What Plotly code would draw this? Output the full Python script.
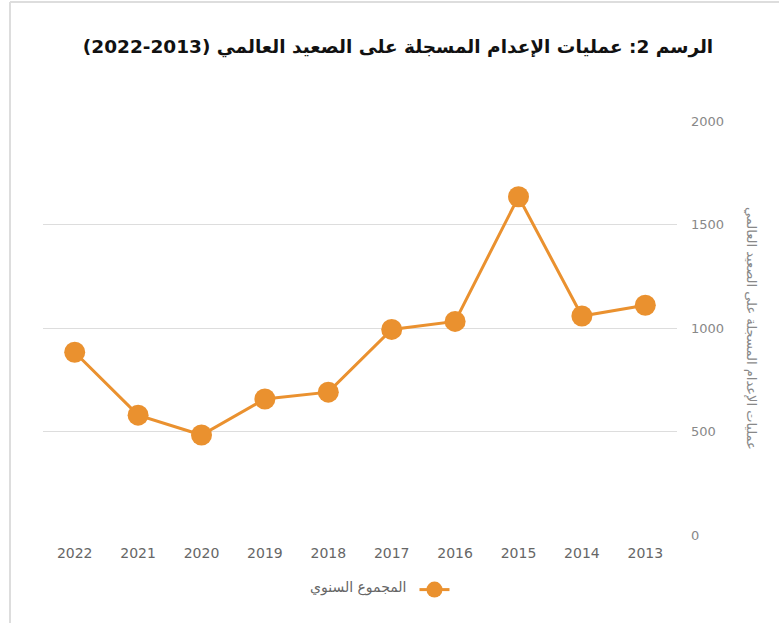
import plotly.graph_objects as go

years = ["2022", "2021", "2020", "2019", "2018", "2017", "2016", "2015", "2014", "2013"]
executions = [883, 579, 483, 657, 690, 993, 1032, 1634, 1058, 1110]
y_ticks = [0, 500, 1000, 1500, 2000]

title_text = "الرسم 2: عمليات الإعدام المسجلة على الصعيد العالمي (2013-2022)"
y_title = "عمليات الإعدام المسجلة على الصعيد العالمي"
series_name = "المجموع السنوي"

W, H = 779, 623
ml, mr, mt, mb = 43, 102, 121, 88

orange = "#EA912F"
font_family = "DejaVu Sans, Noto Sans, sans-serif"

fig = go.Figure()
fig.add_trace(go.Scatter(
    x=years, y=executions, mode="lines+markers", name="",
    line=dict(color=orange, width=3),
    marker=dict(color=orange, size=21),
    showlegend=True,
))

fig.update_layout(
    width=W, height=H,
    margin=dict(l=ml, r=mr, t=mt, b=mb),
    paper_bgcolor="white", plot_bgcolor="white",
    font=dict(family=font_family, color="#777777"),
    title=dict(text="<b>" + title_text + "</b>", x=398 / W, xanchor="center",
               y=1 - 47 / H, yanchor="middle",
               font=dict(size=18.5, color="#111111", family=font_family)),
    xaxis=dict(type="category", categoryorder="array", categoryarray=years,
               range=[-0.5, 9.5], showgrid=False, zeroline=False, showline=False,
               ticks="", tickfont=dict(size=14, color="#666666"),
               ticklabelstandoff=8),
    yaxis=dict(side="right", range=[0, 2000], tickvals=y_ticks,
               showgrid=True, gridcolor="#dddddd", gridwidth=1,
               zeroline=False, showline=False, ticks="",
               tickfont=dict(size=13, color="#888888"),
               ticklabelstandoff=13),
    legend=dict(orientation="h", x=(384 - ml) / (W - ml - mr), xanchor="center",
                y=-(590 - (H - mb)) / (H - mt - mb), yanchor="middle",
                title=dict(text=series_name, side="left",
                           font=dict(size=14, color="#666666")),
                font=dict(size=14, color="#666666"),
                itemwidth=30),
    annotations=[dict(text=y_title, textangle=90, xref="paper", yref="paper",
                      x=(752 - ml) / (W - ml - mr), y=0.5, xanchor="center",
                      yanchor="middle", showarrow=False,
                      font=dict(size=13, color="#888888"))],
    shapes=[
        dict(type="line", xref="paper", yref="paper",
             x0=(10 - ml) / (W - ml - mr), x1=(10 - ml) / (W - ml - mr),
             y0=(H - mb - 2) / (H - mt - mb), y1=-(mb) / (H - mt - mb),
             line=dict(color="#dddddd", width=2)),
        dict(type="line", xref="paper", yref="paper",
             x0=(10 - ml) / (W - ml - mr), x1=(W - ml) / (W - ml - mr),
             y0=(H - mb - 2) / (H - mt - mb), y1=(H - mb - 2) / (H - mt - mb),
             line=dict(color="#dddddd", width=2)),
    ],
)

fig.write_html("out.html", config={"displayModeBar": False},
               post_script="document.body.style.margin='0';")
